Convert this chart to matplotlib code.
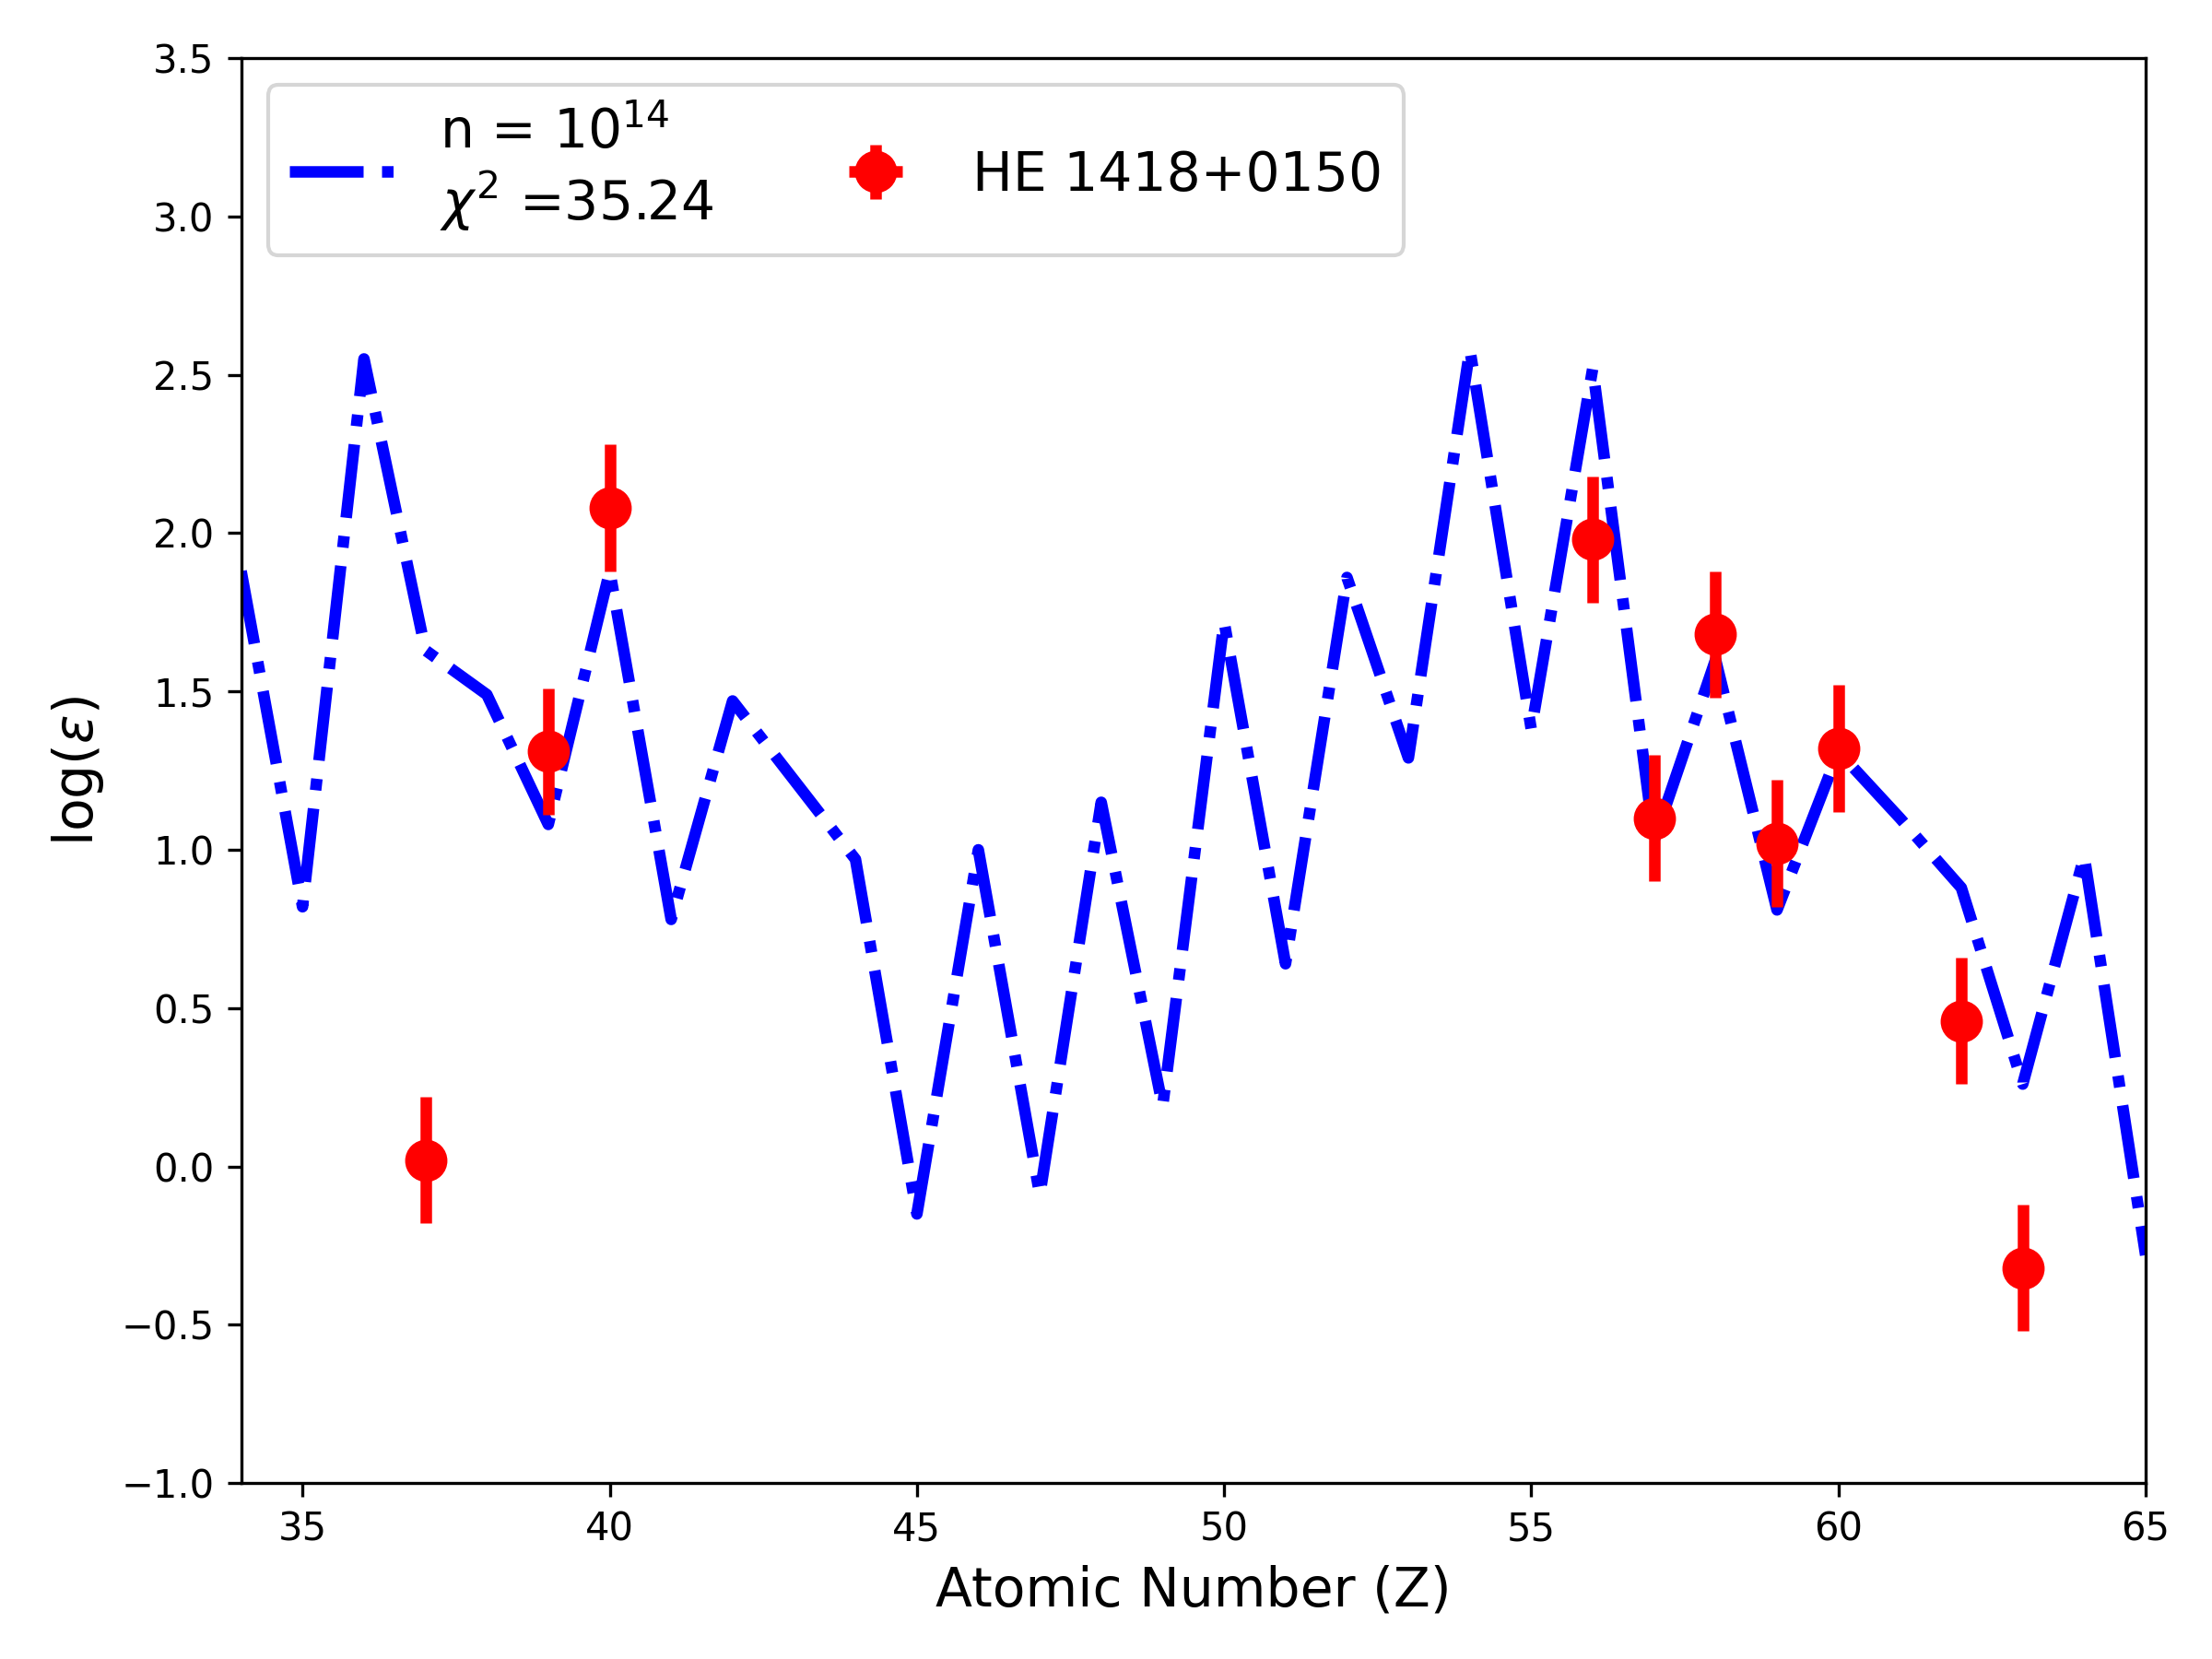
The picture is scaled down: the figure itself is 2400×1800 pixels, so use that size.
import numpy as np
import matplotlib
matplotlib.use("Agg")
import matplotlib.pyplot as plt

# model abundance pattern, n = 1e14
model_z = list(range(34, 66))
model_logeps = [1.88, 0.82, 2.55, 1.63, 1.49, 1.08, 1.88, 0.78, 1.47, 1.22,
                0.97, -0.15, 1.00, -0.09, 1.15, 0.19, 1.72, 0.64, 1.86, 1.29,
                2.58, 1.38, 2.52, 1.03, 1.60, 0.81, 1.31, 1.10, 0.88, 0.26,
                0.98, -0.28]

# observed star
obs_z = [37, 39, 40, 56, 57, 58, 59, 60, 62, 63]
obs_logeps = [0.02, 1.31, 2.08, 1.98, 1.10, 1.68, 1.02, 1.32, 0.46, -0.32]
obs_err = [0.2, 0.2, 0.2, 0.2, 0.2, 0.2, 0.2, 0.2, 0.2, 0.2]
obs_zerr = [0, 0, 0, 0, 0, 0, 0, 0, 0, 0]

fig, ax = plt.subplots(figsize=(8, 6), dpi=300)
ax.plot(model_z, model_logeps, color='blue', linestyle='-.', linewidth=3,
        label='n = $10^{14}$\n$\\chi^2$ =35.24')
ax.errorbar(obs_z, obs_logeps, yerr=obs_err, xerr=obs_zerr, fmt='o',
            color='red', markersize=10, elinewidth=3, label='HE 1418+0150')

ax.set_xlim(34, 65)
ax.set_ylim(-1.0, 3.5)
ax.set_xlabel('Atomic Number (Z)', fontsize=14)
ax.set_ylabel(r'log($\epsilon$)', fontsize=14)
ax.legend(loc='upper left', ncol=2, fontsize=14)

plt.subplots_adjust(left=0.109, right=0.970, top=0.965, bottom=0.106)
plt.savefig('out.png')
